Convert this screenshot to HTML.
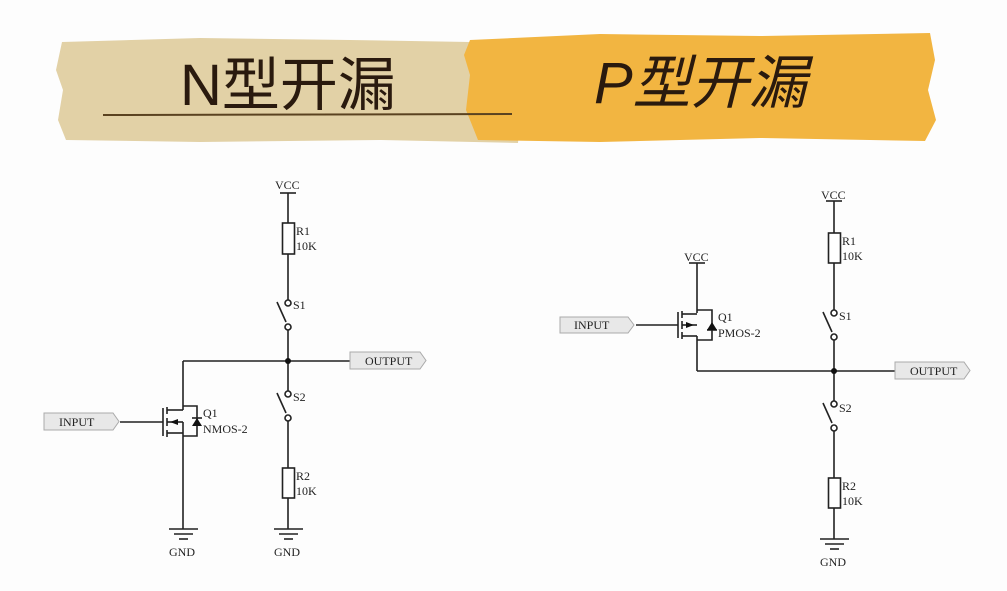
<!DOCTYPE html>
<html><head><meta charset="utf-8"><style>
html,body{margin:0;padding:0;background:#fff;width:1007px;height:591px;overflow:hidden}
</style></head><body>
<svg width="1007" height="591" viewBox="0 0 1007 591" xmlns="http://www.w3.org/2000/svg">
<rect width="1007" height="591" fill="#fdfdfd"/>
<path d="M62,42 L200,38 L350,40 L470,42 L520,44 L522,90 L518,143 L380,140 L200,142 L66,140 L58,120 L63,90 L56,70 Z" fill="#e2d1a6"/>
<path d="M470,40 L600,34 L760,36 L930,33 L935,60 L928,90 L936,120 L925,141 L760,138 L600,142 L478,140 L466,110 L470,75 L464,55 Z" fill="#f2b541"/>
<line x1="103" y1="115" x2="512" y2="114" stroke="#5a4220" stroke-width="2"/>
<text x="180" y="105" font-family="Liberation Sans,'Noto Sans CJK SC',sans-serif" font-size="58" fill="#2a1a0e">N型开漏</text>
<text x="594" y="103" font-family="Liberation Sans,'Noto Sans CJK SC',sans-serif" font-size="58" font-style="italic" fill="#2a1a0e">P型开漏</text>

<g stroke="#222" stroke-width="1.6" fill="none">
<line x1="280" y1="193" x2="296" y2="193"/>
<line x1="288" y1="193" x2="288" y2="223"/>
<rect x="282.5" y="223" width="12" height="31" fill="#fff"/>
<line x1="288" y1="254" x2="288" y2="300"/>
<circle cx="288" cy="303" r="3" fill="#fff"/>
<line x1="277" y1="302" x2="286" y2="322"/>
<circle cx="288" cy="327" r="3" fill="#fff"/>
<line x1="288" y1="330" x2="288" y2="391"/>
<circle cx="288" cy="394" r="3" fill="#fff"/>
<line x1="277" y1="393" x2="286" y2="413"/>
<circle cx="288" cy="418" r="3" fill="#fff"/>
<line x1="288" y1="421" x2="288" y2="468"/>
<rect x="282.5" y="468" width="12" height="30" fill="#fff"/>
<line x1="288" y1="498" x2="288" y2="529"/>
<line x1="274" y1="529" x2="303" y2="529"/>
<line x1="279" y1="534" x2="298" y2="534"/>
<line x1="284" y1="539" x2="293" y2="539"/>
<line x1="183" y1="361" x2="350" y2="361"/>
<line x1="183" y1="361" x2="183" y2="410"/>
<line x1="120" y1="422" x2="163" y2="422"/>
<line x1="163" y1="408" x2="163" y2="436"/>
<line x1="167" y1="407" x2="167" y2="414"/>
<line x1="167" y1="418" x2="167" y2="426"/>
<line x1="167" y1="430" x2="167" y2="437"/>
<line x1="167" y1="410" x2="183" y2="410"/>
<line x1="167" y1="422" x2="183" y2="422"/>
<line x1="167" y1="433" x2="183" y2="433"/>
<line x1="183" y1="422" x2="183" y2="529"/>
<polyline points="183,406 197,406 197,436 183,436"/>
<line x1="169" y1="529" x2="198" y2="529"/>
<line x1="174" y1="534" x2="193" y2="534"/>
<line x1="179" y1="539" x2="188" y2="539"/>
<line x1="192" y1="418" x2="202" y2="418"/>

<line x1="826" y1="201" x2="842" y2="201"/>
<line x1="834" y1="201" x2="834" y2="233"/>
<rect x="828.5" y="233" width="12" height="30" fill="#fff"/>
<line x1="834" y1="263" x2="834" y2="310"/>
<circle cx="834" cy="313" r="3" fill="#fff"/>
<line x1="823" y1="312" x2="832" y2="332"/>
<circle cx="834" cy="337" r="3" fill="#fff"/>
<line x1="834" y1="340" x2="834" y2="401"/>
<circle cx="834" cy="404" r="3" fill="#fff"/>
<line x1="823" y1="403" x2="832" y2="423"/>
<circle cx="834" cy="428" r="3" fill="#fff"/>
<line x1="834" y1="431" x2="834" y2="478"/>
<rect x="828.5" y="478" width="12" height="30" fill="#fff"/>
<line x1="834" y1="508" x2="834" y2="539"/>
<line x1="820" y1="539" x2="849" y2="539"/>
<line x1="825" y1="544" x2="844" y2="544"/>
<line x1="830" y1="549" x2="839" y2="549"/>
<line x1="697" y1="371" x2="895" y2="371"/>
<line x1="689" y1="263" x2="705" y2="263"/>
<line x1="697" y1="263" x2="697" y2="313"/>
<line x1="636" y1="325" x2="678" y2="325"/>
<line x1="678" y1="312" x2="678" y2="338"/>
<line x1="682" y1="311" x2="682" y2="318"/>
<line x1="682" y1="321" x2="682" y2="329"/>
<line x1="682" y1="332" x2="682" y2="339"/>
<line x1="682" y1="314" x2="697" y2="314"/>
<line x1="682" y1="325" x2="697" y2="325"/>
<line x1="682" y1="336" x2="697" y2="336"/>
<line x1="697" y1="336" x2="697" y2="371"/>
<polyline points="697,310 712,310 712,340 697,340"/>
<line x1="707" y1="330" x2="717" y2="330"/>
</g>
<circle cx="288" cy="361" r="3" fill="#111"/>
<circle cx="834" cy="371" r="3" fill="#111"/>
<polygon points="192,418 202,418 197,426" fill="#111" transform="rotate(180 197 422)"/>
<polygon points="170,422 178,419 178,425" fill="#111"/>
<polygon points="707,330 717,330 712,322" fill="#111"/>
<polygon points="694,325 686,322 686,328" fill="#111"/>
<g fill="#e8e8e8" stroke="#aaa" stroke-width="1">
<polygon points="44,413 113,413 119,421.5 113,430 44,430"/>
<polygon points="350,352 420,352 426,360.5 420,369 350,369"/>
<polygon points="560,317 628,317 634,325 628,333 560,333"/>
<polygon points="895,362 964,362 970,370.5 964,379 895,379"/>
</g>
<g font-family="Liberation Serif,serif" font-size="12" fill="#222">
<text x="59" y="426">INPUT</text>
<text x="365" y="365">OUTPUT</text>
<text x="574" y="329">INPUT</text>
<text x="910" y="375">OUTPUT</text>
<text x="275" y="189">VCC</text>
<text x="296" y="235">R1</text>
<text x="296" y="250">10K</text>
<text x="293" y="309">S1</text>
<text x="293" y="401">S2</text>
<text x="296" y="480">R2</text>
<text x="296" y="495">10K</text>
<text x="274" y="556">GND</text>
<text x="169" y="556">GND</text>
<text x="203" y="417">Q1</text>
<text x="203" y="433">NMOS-2</text>
<text x="821" y="199">VCC</text>
<text x="842" y="245">R1</text>
<text x="842" y="260">10K</text>
<text x="839" y="320">S1</text>
<text x="839" y="412">S2</text>
<text x="842" y="490">R2</text>
<text x="842" y="505">10K</text>
<text x="820" y="566">GND</text>
<text x="684" y="261">VCC</text>
<text x="718" y="321">Q1</text>
<text x="718" y="337">PMOS-2</text>
</g>
</svg>
</body></html>
